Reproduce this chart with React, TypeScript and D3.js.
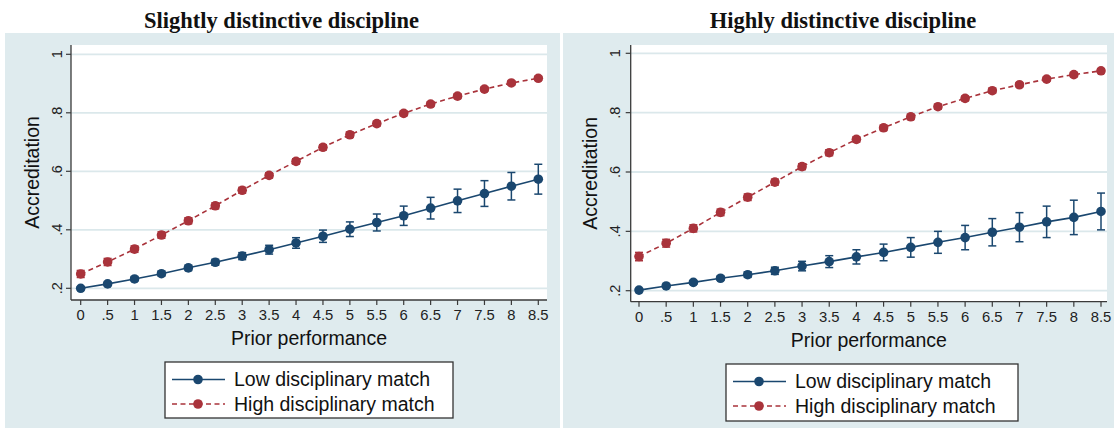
import React from "react";
import * as d3 from "d3";

// prior performance values (x) and tick labels
const xValues = [0, 0.5, 1, 1.5, 2, 2.5, 3, 3.5, 4, 4.5, 5, 5.5, 6, 6.5, 7, 7.5, 8, 8.5];
const xTickLabels = ["0", ".5", "1", "1.5", "2", "2.5", "3", "3.5", "4", "4.5", "5", "5.5", "6", "6.5", "7", "7.5", "8", "8.5"];
const yTicks = [0.2, 0.4, 0.6, 0.8, 1];
const yTickLabels = [".2", ".4", ".6", ".8", "1"];

const panelTitles = ["Slightly distinctive discipline", "Highly distinctive discipline"];
const seriesNames = ["Low disciplinary match", "High disciplinary match"];

// slightly distinctive discipline
const slightLow = [0.2, 0.215, 0.232, 0.25, 0.27, 0.289, 0.31, 0.332, 0.355, 0.378, 0.402, 0.425, 0.448, 0.474, 0.499, 0.524, 0.549, 0.573];
const slightLowCI = [0.005, 0.006, 0.007, 0.008, 0.009, 0.01, 0.012, 0.015, 0.018, 0.021, 0.025, 0.029, 0.033, 0.037, 0.04, 0.044, 0.047, 0.051];
const slightHigh = [0.249, 0.29, 0.334, 0.382, 0.431, 0.482, 0.535, 0.586, 0.634, 0.682, 0.725, 0.763, 0.798, 0.83, 0.857, 0.881, 0.902, 0.918];
const slightHighCI = [0.012, 0.012, 0.011, 0.011, 0.01, 0.01, 0.01, 0.009, 0.009, 0.009, 0.009, 0.008, 0.008, 0.008, 0.008, 0.007, 0.007, 0.007];

// highly distinctive discipline
const highLow = [0.202, 0.216, 0.228, 0.242, 0.254, 0.267, 0.283, 0.298, 0.314, 0.329, 0.346, 0.363, 0.379, 0.397, 0.414, 0.432, 0.447, 0.467];
const highLowCI = [0.005, 0.005, 0.006, 0.007, 0.009, 0.012, 0.016, 0.02, 0.024, 0.028, 0.033, 0.037, 0.041, 0.046, 0.049, 0.053, 0.058, 0.062];
const highHigh = [0.315, 0.36, 0.41, 0.464, 0.515, 0.566, 0.618, 0.665, 0.71, 0.749, 0.786, 0.82, 0.848, 0.874, 0.894, 0.913, 0.928, 0.941];
const highHighCI = [0.014, 0.013, 0.012, 0.011, 0.011, 0.01, 0.01, 0.01, 0.009, 0.009, 0.009, 0.008, 0.008, 0.008, 0.007, 0.007, 0.007, 0.007];

const NAVY = "#1a476f";
const RED = "#a9333b";
const BG = "#dfebee";
const GRID = "#dbe8eb";
const AXIS = "#3a3a3a";
const SANS = "'Liberation Sans', Arial, sans-serif";
const SERIF = "'Liberation Serif', 'Times New Roman', serif";

type Layout = {
  bgLeft: number; bgRight: number;
  axisX: number; plotRight: number; plotTop: number; axisY: number;
  xRange: [number, number]; yRange: [number, number];
  titleX: number; yLabelX: number; tickLabelX: number;
  legend: { x: number; y: number; w: number; h: number };
};

const layouts: Layout[] = [
  {
    bgLeft: 5, bgRight: 560, axisX: 71, plotRight: 547, plotTop: 45, axisY: 300,
    xRange: [80.7, 538.3], yRange: [288.3, 54.3],
    titleX: 281.5, yLabelX: 32.5, tickLabelX: 57,
    legend: { x: 165, y: 362, w: 288, h: 56 },
  },
  {
    bgLeft: 563, bgRight: 1114, axisX: 630.7, plotRight: 1107, plotTop: 45, axisY: 301.7,
    xRange: [639, 1101], yRange: [290.7, 53.3],
    titleX: 843, yLabelX: 590.5, tickLabelX: 615,
    legend: { x: 726, y: 364, w: 292, h: 57 },
  },
];

function Series({ x, y, values, ci, color, dashed }: any) {
  const line = d3.line<number>().x((_, i) => x(xValues[i])).y((d) => y(d));
  return (
    <g>
      <path d={line(values) || ""} fill="none" stroke={color} strokeWidth={1.6}
        strokeDasharray={dashed ? "5,3.5" : undefined} />
      {values.map((v: number, i: number) => {
        const cx = x(xValues[i]);
        const t = y(v + ci[i]);
        const b = y(v - ci[i]);
        return (
          <g key={i} stroke={color} strokeWidth={1.5}>
            <line x1={cx} x2={cx} y1={t} y2={b} />
            <line x1={cx - 4} x2={cx + 4} y1={t} y2={t} />
            <line x1={cx - 4} x2={cx + 4} y1={b} y2={b} />
            <circle cx={cx} cy={y(v)} r={4.8} fill={color} stroke="none" />
          </g>
        );
      })}
    </g>
  );
}

function Panel({ lay, title, low, lowCI, high, highCI }: any) {
  const L: Layout = lay;
  const x = d3.scaleLinear().domain([0, 8.5]).range(L.xRange);
  const y = d3.scaleLinear().domain([0.2, 1]).range(L.yRange);
  const lg = L.legend;
  const rowY = [lg.y + 17.5, lg.y + 42];

  return (
    <g>
      <rect x={L.bgLeft} y={33} width={L.bgRight - L.bgLeft} height={395} fill={BG} />
      <text x={L.titleX} y={28} textAnchor="middle" fontFamily={SERIF} fontWeight="bold" fontSize={22.5} fill="#111">
        {title}
      </text>
      {/* plot region */}
      <rect x={L.axisX} y={L.plotTop} width={L.plotRight - L.axisX} height={L.axisY - L.plotTop} fill="#fff" />
      {yTicks.map((t, i) => (
        <g key={i}>
          <line x1={L.axisX} x2={L.plotRight} y1={y(t)} y2={y(t)} stroke={GRID} strokeWidth={1.8} />
          <line x1={L.axisX - 5} x2={L.axisX} y1={y(t)} y2={y(t)} stroke={AXIS} strokeWidth={1.2} />
          <text transform={`translate(${L.tickLabelX},${y(t)}) rotate(-90)`} textAnchor="middle" dy="0.35em"
            fontFamily={SANS} fontSize={14.5} fill="#222">{yTickLabels[i]}</text>
        </g>
      ))}
      {xValues.map((v, i) => (
        <g key={i}>
          <line x1={x(v)} x2={x(v)} y1={L.axisY} y2={L.axisY + 5} stroke={AXIS} strokeWidth={1.2} />
          <text x={x(v)} y={L.axisY + 20} textAnchor="middle" fontFamily={SANS} fontSize={14.8} fill="#222">
            {xTickLabels[i]}
          </text>
        </g>
      ))}
      <line x1={L.axisX} x2={L.axisX} y1={L.plotTop} y2={L.axisY} stroke={AXIS} strokeWidth={1.3} />
      <line x1={L.axisX} x2={L.plotRight} y1={L.axisY} y2={L.axisY} stroke={AXIS} strokeWidth={1.3} />

      <text transform={`translate(${L.yLabelX},${(L.plotTop + L.axisY) / 2}) rotate(-90)`} textAnchor="middle" dy="0.35em"
        fontFamily={SANS} fontSize={19.5} fill="#111">Accreditation</text>
      <text x={(L.axisX + L.plotRight) / 2} y={L.axisY + 45} textAnchor="middle"
        fontFamily={SANS} fontSize={19.5} fill="#111">Prior performance</text>

      <Series x={x} y={y} values={low} ci={lowCI} color={NAVY} dashed={false} />
      <Series x={x} y={y} values={high} ci={highCI} color={RED} dashed={true} />

      {/* legend */}
      <rect x={lg.x} y={lg.y} width={lg.w} height={lg.h} fill="#fff" stroke="#333" strokeWidth={1.3} />
      {[NAVY, RED].map((c, i) => (
        <g key={i}>
          <line x1={lg.x + 7} x2={lg.x + 60} y1={rowY[i]} y2={rowY[i]} stroke={c} strokeWidth={1.6}
            strokeDasharray={i === 1 ? "5,3.5" : undefined} />
          <circle cx={lg.x + 33} cy={rowY[i]} r={4.8} fill={c} />
          <text x={lg.x + 69} y={rowY[i]} dy="0.35em" fontFamily={SANS} fontSize={19.5} fill="#111">
            {seriesNames[i]}
          </text>
        </g>
      ))}
    </g>
  );
}

export default function App() {
  return (
    <svg width={1114} height={430} style={{ position: "absolute", left: 0, top: 0, background: "#fff" }}>
      <Panel lay={layouts[0]} title={panelTitles[0]} low={slightLow} lowCI={slightLowCI} high={slightHigh} highCI={slightHighCI} />
      <Panel lay={layouts[1]} title={panelTitles[1]} low={highLow} lowCI={highLowCI} high={highHigh} highCI={highHighCI} />
    </svg>
  );
}
